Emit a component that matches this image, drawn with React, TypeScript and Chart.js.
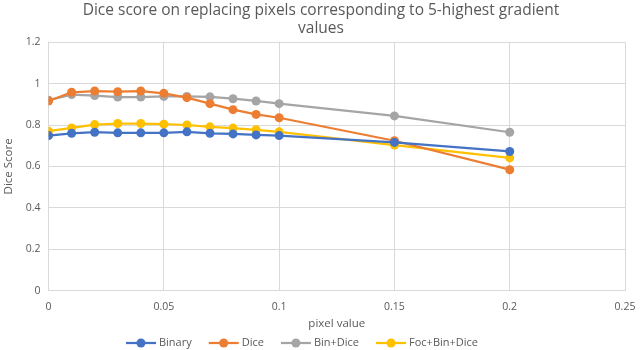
import React, { useEffect, useRef } from "react";
import { Chart, registerables } from "chart.js";

Chart.register(...registerables);

const xValues = [0, 0.01, 0.02, 0.03, 0.04, 0.05, 0.06, 0.07, 0.08, 0.09, 0.1, 0.15, 0.2];
const binary = [0.749, 0.76, 0.765, 0.762, 0.762, 0.762, 0.767, 0.76, 0.757, 0.752, 0.749, 0.716, 0.672];
const dice = [0.916, 0.958, 0.964, 0.961, 0.964, 0.953, 0.932, 0.903, 0.874, 0.851, 0.835, 0.724, 0.584];
const binDice = [0.92, 0.947, 0.942, 0.935, 0.935, 0.938, 0.938, 0.936, 0.927, 0.916, 0.903, 0.844, 0.765];
const focBinDice = [0.77, 0.786, 0.802, 0.807, 0.807, 0.804, 0.8, 0.791, 0.785, 0.777, 0.767, 0.703, 0.641];

const seriesNames = ["Binary", "Dice", "Bin+Dice", "Foc+Bin+Dice"];
const seriesColors = ["#4472C4", "#ED7D31", "#A5A5A5", "#FFC000"];
const seriesValues = [binary, dice, binDice, focBinDice];

const titleLines = ["Dice score on replacing pixels corresponding to 5-highest gradient", "values"];
const xTitle = "pixel value";
const yTitle = "Dice Score";

const FONT = "'Open Sans', sans-serif";
const TEXT = "#595959";

const fmt = (v: any) => String(Number(Number(v).toFixed(2)));

const customLegend = {
  id: "customLegend",
  afterDraw(chart: any) {
    const ctx = chart.ctx;
    ctx.save();
    ctx.font = `11px ${FONT}`;
    ctx.textBaseline = "middle";
    const iconW = 30;
    const iconGap = 3;
    const itemGap = 17;
    const y = chart.height - 7;
    const widths = chart.data.datasets.map((ds: any) => iconW + iconGap + ctx.measureText(ds.label).width);
    const total = widths.reduce((a: number, b: number) => a + b, 0) + itemGap * (widths.length - 1);
    let x = chart.width / 2 - 18 - total / 2;
    chart.data.datasets.forEach((ds: any, i: number) => {
      const color = ds.borderColor;
      ctx.strokeStyle = color;
      ctx.lineWidth = 2.25;
      ctx.beginPath();
      ctx.moveTo(x, y);
      ctx.lineTo(x + iconW, y);
      ctx.stroke();
      ctx.fillStyle = color;
      ctx.beginPath();
      ctx.arc(x + iconW / 2, y, 4.5, 0, Math.PI * 2);
      ctx.fill();
      ctx.fillStyle = TEXT;
      ctx.textAlign = "left";
      ctx.fillText(ds.label, x + iconW + iconGap, y);
      x += widths[i] + itemGap;
    });
    ctx.restore();
  },
};

export default function App() {
  const ref = useRef<HTMLCanvasElement>(null);
  useEffect(() => {
    document.body.style.margin = "0";
    const chart = new Chart(ref.current!, {
      type: "line",
      data: {
        datasets: seriesNames.map((name, i) => ({
          label: name,
          data: xValues.map((x, j) => ({ x, y: seriesValues[i][j] })),
          borderColor: seriesColors[i],
          backgroundColor: seriesColors[i],
          borderWidth: 2.25,
          pointRadius: 4.5,
          pointHoverRadius: 4.5,
          pointBorderWidth: 0,
          tension: 0,
        })),
      },
      plugins: [customLegend],
      options: {
        animation: false,
        responsive: false,
        layout: { padding: { left: 2, right: 0, top: 1, bottom: 19 } },
        plugins: {
          title: {
            display: true,
            text: titleLines,
            color: TEXT,
            font: { family: FONT, size: 15.5, weight: "normal", lineHeight: 1.2 },
            padding: { top: 0, bottom: 4 },
          },
          legend: { display: false },
          tooltip: { enabled: false },
        },
        scales: {
          x: {
            type: "linear",
            min: 0,
            max: 0.25,
            afterFit: (scale: any) => {
              scale.paddingRight = 15;
            },
            ticks: {
              stepSize: 0.05,
              color: TEXT,
              font: { family: FONT, size: 10.5 },
              callback: fmt,
              padding: 10,
            },
            grid: { color: "#D9D9D9", lineWidth: 1, drawTicks: false },
            border: { color: "#D9D9D9" },
            title: {
              display: true,
              text: xTitle,
              color: TEXT,
              font: { family: FONT, size: 11.5 },
              padding: { top: -6, bottom: 0 },
            },
          },
          y: {
            min: 0,
            max: 1.2,
            ticks: {
              stepSize: 0.2,
              color: TEXT,
              font: { family: FONT, size: 10.5 },
              callback: fmt,
              padding: 8,
            },
            grid: { color: "#D9D9D9", lineWidth: 1, drawTicks: false },
            border: { color: "#D9D9D9" },
            title: {
              display: true,
              text: yTitle,
              color: TEXT,
              font: { family: FONT, size: 11.5 },
              padding: { top: 0, bottom: 2 },
            },
          },
        },
      },
    });
    return () => chart.destroy();
  }, []);
  return (
    <div style={{ width: 640, height: 350 }}>
      <canvas ref={ref} width={640} height={350} />
    </div>
  );
}
